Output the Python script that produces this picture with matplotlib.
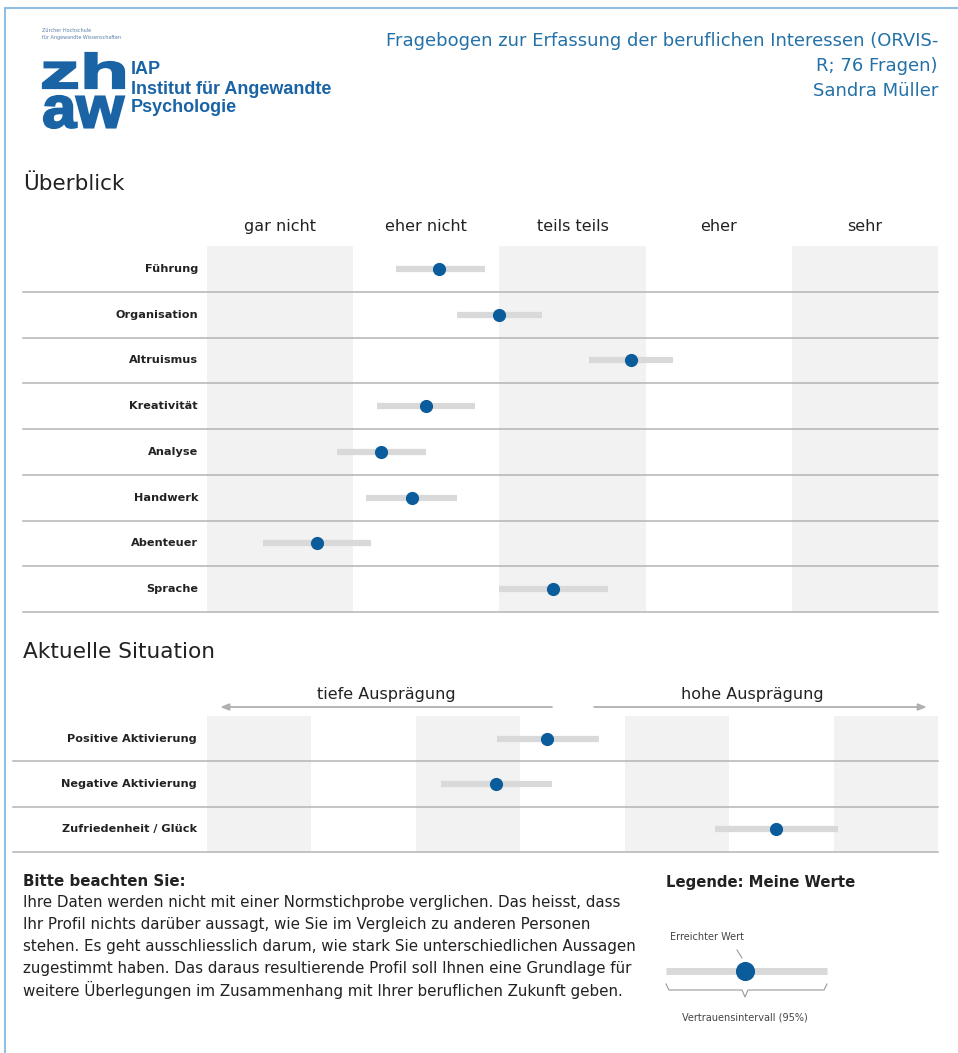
import matplotlib.pyplot as plt
from matplotlib.textpath import TextPath
from matplotlib.patches import PathPatch
from matplotlib.font_manager import FontProperties
from matplotlib.transforms import Affine2D, blended_transform_factory

W, H = 958, 1053
blue = '#0b5c9a'
head_blue = '#2471a8'
ci_grey = '#d9d9d9'
band_grey = '#f2f2f2'
sep_grey = '#b4b4b4'
txt = '#222222'

# overview (scale 1-5)
cols_top = ['gar nicht', 'eher nicht', 'teils teils', 'eher', 'sehr']
cats_top = ['Führung', 'Organisation', 'Altruismus', 'Kreativität',
            'Analyse', 'Handwerk', 'Abenteuer', 'Sprache']
val_top = [2.09, 2.50, 3.40, 2.00, 1.69, 1.90, 1.25, 2.87]
lo_top = [1.79, 2.21, 3.11, 1.66, 1.39, 1.59, 0.88, 2.50]
hi_top = [2.40, 2.79, 3.69, 2.33, 2.00, 2.21, 1.62, 3.24]

# current situation (scale 1-7)
cats_bot = ['Positive Aktivierung', 'Negative Aktivierung', 'Zufriedenheit / Glück']
val_bot = [3.76, 3.27, 5.95]
lo_bot = [3.28, 2.74, 5.36]
hi_bot = [4.25, 3.80, 6.54]

note = ['Ihre Daten werden nicht mit einer Normstichprobe verglichen. Das heisst, dass',
        'Ihr Profil nichts darüber aussagt, wie Sie im Vergleich zu anderen Personen',
        'stehen. Es geht ausschliesslich darum, wie stark Sie unterschiedlichen Aussagen',
        'zugestimmt haben. Das daraus resultierende Profil soll Ihnen eine Grundlage für',
        'weitere Überlegungen im Zusammenhang mit Ihrer beruflichen Zukunft geben.']


def px_axes(x0, y0, x1, y1):
    return fig.add_axes([x0 / W, 1 - y1 / H, (x1 - x0) / W, (y1 - y0) / H])


def ftext(x, y, s, **kw):
    kw.setdefault('color', txt)
    kw.setdefault('va', 'center')
    return fig.text(x / W, 1 - y / H, s, **kw)


fig = plt.figure(figsize=(W / 100, H / 100), dpi=100)

# page frame + logo/header layer in pixel coords
bg = fig.add_axes([0, 0, 1, 1])
bg.set_xlim(0, W)
bg.set_ylim(H, 0)
bg.axis('off')
bg.plot([5, W], [8, 8], color='#8fbfe3', lw=1.5)
bg.plot([5, 5], [8, H], color='#8fbfe3', lw=1.5)

logo_blue = '#1a64a6'
bold = FontProperties(family='Liberation Sans', weight='bold')


def fit_text(s, x0, y0, x1, y1):
    tp = TextPath((0, 0), s, size=10, prop=bold)
    bb = tp.get_extents()
    tr = (Affine2D().translate(-bb.x0, -bb.y0)
          .scale((x1 - x0) / bb.width, -(y1 - y0) / bb.height)
          .translate(x0, y1))
    bg.add_patch(PathPatch(tr.transform_path(tp), facecolor=logo_blue,
                           edgecolor=logo_blue, lw=1.6))


fit_text('zh', 43, 53, 124, 88)
fit_text('aw', 44, 96, 124, 128)
ftext(42, 30, 'Zürcher Hochschule', fontsize=3.5, color='#5a7fa8')
ftext(42, 37, 'für Angewandte Wissenschaften', fontsize=3.5, color='#5a7fa8')
for y, s in zip([70, 89, 107], ['IAP', 'Institut für Angewandte', 'Psychologie']):
    ftext(131, y, s, fontsize=13, fontweight='bold', color=logo_blue,
          family='Liberation Sans')

for y, s in zip([41, 66, 91], ['Fragebogen zur Erfassung der beruflichen Interessen (ORVIS-',
                               'R; 76 Fragen)', 'Sandra Müller']):
    ftext(938, y, s, fontsize=13, color=head_blue, ha='right')

# Überblick
ftext(23, 184, 'Überblick', fontsize=15.5)
ax = px_axes(23, 246, 938, 612)
unit = (938 - 207) / 5
ax.set_xlim(0.5 - (207 - 23) / unit, 5.5)
ax.set_ylim(len(cats_top), 0)
ax.axis('off')
for i, c in enumerate(cols_top):
    if i % 2 == 0:
        ax.axvspan(i + 0.5, i + 1.5, color=band_grey, lw=0, zorder=0)
    ax.text(i + 1, -0.43, c, ha='center', va='center', fontsize=11.5, color=txt)
for i, c in enumerate(cats_top):
    ax.axhline(i + 1, color=sep_grey, lw=1.1, clip_on=False, zorder=1)
    ax.text(0.5 - 9 / unit, i + 0.5, c, ha='right', va='center',
            fontsize=8.1, fontweight='bold', color=txt)
ys = [i + 0.5 for i in range(len(cats_top))]
ax.hlines(ys, lo_top, hi_top, color=ci_grey, lw=4.5, zorder=2)
ax.scatter(val_top, ys, s=90, color=blue, zorder=3, lw=0)

# Aktuelle Situation
ftext(23, 652, 'Aktuelle Situation', fontsize=15.6)
ax2 = px_axes(13, 716, 938, 852)
unit2 = (938 - 207) / 7
ax2.set_xlim(0.5 - (207 - 13) / unit2, 7.5)
ax2.set_ylim(len(cats_bot), 0)
ax2.axis('off')
for i in range(7):
    if i % 2 == 0:
        ax2.axvspan(i + 0.5, i + 1.5, color=band_grey, lw=0, zorder=0)
for i, c in enumerate(cats_bot):
    ax2.axhline(i + 1, color=sep_grey, lw=1.1, clip_on=False, zorder=1)
    ax2.text(0.5 - 10 / unit2, i + 0.5, c, ha='right', va='center',
             fontsize=8.1, fontweight='bold', color=txt)
ys2 = [i + 0.5 for i in range(len(cats_bot))]
ax2.hlines(ys2, lo_bot, hi_bot, color=ci_grey, lw=4.5, zorder=2)
ax2.scatter(val_bot, ys2, s=90, color=blue, zorder=3, lw=0)

bt = blended_transform_factory(ax2.transData, ax2.transAxes)
arr = dict(arrowstyle='-|>,head_length=0.5,head_width=0.2', color='#b0b0b0', lw=1.3)
ax2.annotate('', xy=(0.6, 1.066), xytext=(3.83, 1.066), xycoords=bt, textcoords=bt,
             arrowprops=arr)
ax2.annotate('', xy=(7.42, 1.066), xytext=(4.18, 1.066), xycoords=bt, textcoords=bt,
             arrowprops=arr)
ax2.text(2.22, 1.16, 'tiefe Ausprägung', transform=bt, ha='center', va='center',
         fontsize=11.5, color=txt)
ax2.text(5.72, 1.16, 'hohe Ausprägung', transform=bt, ha='center', va='center',
         fontsize=11.5, color=txt)

# note text
ftext(23, 882, 'Bitte beachten Sie:', fontsize=10.8, fontweight='bold')
for k, line in enumerate(note):
    ftext(23, 902 + 22 * k, line, fontsize=10.9)

# legend
ftext(666, 882, 'Legende: Meine Werte', fontsize=10.7, fontweight='bold')
lg = px_axes(640, 915, 860, 1040)
lg.set_xlim(640, 860)
lg.set_ylim(1040, 915)
lg.axis('off')
leg_lo, leg_val, leg_hi = 666, 745, 827
lg.hlines(971, leg_lo, leg_hi, color=ci_grey, lw=5)
lg.scatter([leg_val], [971], s=190, color=blue, zorder=3, lw=0)
lg.plot([737, 742], [950, 958], color='#999999', lw=0.8)
lg.text(707, 937, 'Erreichter Wert', ha='center', va='center', fontsize=7, color='#444444')
lg.plot([leg_lo, leg_lo + 3, leg_val - 3, leg_val, leg_val + 3, leg_hi - 3, leg_hi],
        [984, 990, 990, 997, 990, 990, 984], color='#999999', lw=0.8)
lg.text(leg_val, 1017, 'Vertrauensintervall (95%)', ha='center', va='center',
        fontsize=7, color='#444444')

fig.savefig('out.png', dpi=100)
